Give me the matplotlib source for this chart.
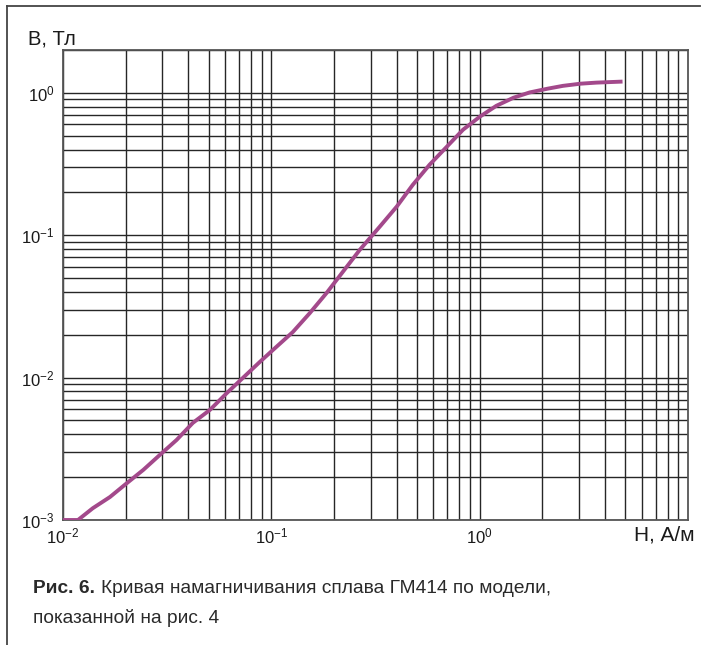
import matplotlib
matplotlib.use("Agg")
import matplotlib.pyplot as plt
from matplotlib.ticker import LogLocator, NullFormatter, FixedLocator, FixedFormatter
from matplotlib.lines import Line2D

# Magnetization curve of the GM414 alloy (model), log-log
H = [0.010, 0.0118, 0.0139, 0.0168, 0.0203, 0.0243, 0.0292, 0.0351, 0.042,
     0.0507, 0.0612, 0.0881, 0.106, 0.1268, 0.153, 0.1844, 0.221, 0.2655,
     0.331, 0.40, 0.4775, 0.575, 0.695, 0.832, 1.0, 1.202, 1.455, 1.738,
     2.12, 2.51, 3.05, 3.63, 4.85]
B = [0.0010, 0.0010, 0.00121, 0.00145, 0.00182, 0.00225, 0.00287, 0.00365, 0.00481,
     0.00593, 0.0078, 0.0129, 0.0165, 0.0209, 0.0284, 0.0394, 0.0556, 0.0788,
     0.1146, 0.159, 0.226, 0.313, 0.418, 0.551, 0.679, 0.811, 0.925, 1.007,
     1.07, 1.12, 1.16, 1.18, 1.20]

x_ticks = [1e-2, 1e-1, 1e0]
x_tick_labels = [r"$10^{-2}$", r"$10^{-1}$", r"$10^{0}$"]
y_ticks = [1e-3, 1e-2, 1e-1, 1e0]
y_tick_labels = [r"$10^{-3}$", r"$10^{-2}$", r"$10^{-1}$", r"$10^{0}$"]

plt.rcParams["font.family"] = ["Liberation Sans", "DejaVu Sans"]
plt.rcParams["mathtext.fontset"] = "custom"
plt.rcParams["mathtext.rm"] = "Liberation Sans"
plt.rcParams["mathtext.it"] = "Liberation Sans"
plt.rcParams["mathtext.default"] = "regular"

W, Hpx = 704, 645
fig = plt.figure(figsize=(W / 100, Hpx / 100), dpi=100)

# plot area in pixel coordinates
left, right, top, bottom = 63, 688, 50, 520
ax = fig.add_axes([left / W, 1 - bottom / Hpx, (right - left) / W, (bottom - top) / Hpx])

ax.plot(H, B, color="#a3498b", lw=2.8, solid_capstyle="butt",
        solid_joinstyle="round", zorder=3)

ax.set_xscale("log")
ax.set_yscale("log")
ax.set_xlim(1e-2, 10)
ax.set_ylim(1e-3, 2)

grid_kw = dict(color="#262626", linewidth=1.0)
ax.xaxis.set_major_locator(FixedLocator(x_ticks))
ax.xaxis.set_major_formatter(FixedFormatter(x_tick_labels))
ax.yaxis.set_major_locator(FixedLocator(y_ticks))
ax.yaxis.set_major_formatter(FixedFormatter(y_tick_labels))
ax.xaxis.set_minor_locator(LogLocator(base=10, subs=range(2, 10), numticks=20))
ax.yaxis.set_minor_locator(LogLocator(base=10, subs=range(2, 10), numticks=20))
ax.xaxis.set_minor_formatter(NullFormatter())
ax.yaxis.set_minor_formatter(NullFormatter())
ax.grid(True, which="both", **grid_kw)
ax.set_axisbelow(True)

ax.tick_params(which="both", length=0)
ax.tick_params(axis="x", pad=5, labelsize=12, colors="#1a1a1a")
ax.tick_params(axis="y", pad=6, labelsize=12, colors="#1a1a1a")
for s in ax.spines.values():
    s.set_color("#555555")
    s.set_linewidth(1.3)

# axis titles
fig.text(28 / W, 1 - 39 / Hpx, "B, Тл", fontsize=14.5, ha="left", va="center", color="#1a1a1a")
fig.text(695 / W, 1 - 535 / Hpx, "H, А/м", fontsize=15, ha="right", va="center", color="#1a1a1a")

# caption
cap_font = ["Liberation Sans", "DejaVu Sans"]
t1 = fig.text(33 / W, 1 - 593 / Hpx, "Рис. 6.", fontsize=13.8, fontweight="bold",
              family=cap_font, ha="left", va="baseline", color="#2a2a2a")
fig.canvas.draw()
bb = t1.get_window_extent()
fig.text(bb.x1 / W + 6 / W, 1 - 593 / Hpx,
         "Кривая намагничивания сплава ГМ414 по модели,", fontsize=13.8,
         family=cap_font, ha="left", va="baseline", color="#2a2a2a")
fig.text(33 / W, 1 - 623 / Hpx, "показанной на рис. 4", fontsize=13.8,
         family=cap_font, ha="left", va="baseline", color="#2a2a2a")

# frame lines of the figure box
fig.add_artist(Line2D([7 / W, 7 / W], [0, 1 - 6 / Hpx], transform=fig.transFigure,
                      color="#444444", lw=1.3))
fig.add_artist(Line2D([7 / W, 700 / W], [1 - 6 / Hpx, 1 - 6 / Hpx], transform=fig.transFigure,
                      color="#444444", lw=1.3))

fig.savefig("out.png", dpi=100)
